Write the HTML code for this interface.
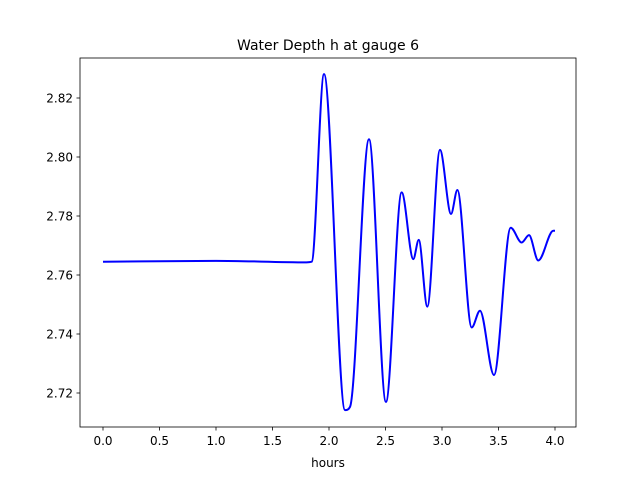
<!DOCTYPE html>
<html><head><meta charset="utf-8"><style>
body{margin:0;background:#fff;font-family:"DejaVu Sans","Liberation Sans",sans-serif;}
svg text{font-family:"DejaVu Sans","Liberation Sans",sans-serif;}
</style></head><body>
<svg id="chart" width="640" height="480" xmlns="http://www.w3.org/2000/svg">
<rect width="640" height="480" fill="#fff"/>
<text x="328" y="50" font-size="14" text-anchor="middle">Water Depth h at gauge 6</text>
<text x="328" y="467" font-size="12" text-anchor="middle">hours</text>
<g id="ticks"></g>
<path id="series" fill="none" stroke="#0000ff" stroke-width="2"/>
<rect x="80" y="58" width="496" height="369" fill="none" stroke="#000" stroke-width="0.8"/>
</svg>
<script>
const hours=[0,1.0,1.8,1.847,1.956,2.142,2.186,2.354,2.504,2.643,2.746,2.794,2.870,2.982,3.080,3.136,3.263,3.336,3.460,3.608,3.705,3.770,3.852,3.985,4.0];
const depth=[2.7645,2.7648,2.7643,2.7645,2.8281,2.7142,2.7153,2.806,2.717,2.788,2.7654,2.7719,2.7493,2.8024,2.7807,2.7888,2.7422,2.7479,2.7261,2.776,2.771,2.7735,2.7649,2.775,2.775];
const xTicks=[0,0.5,1,1.5,2,2.5,3,3.5,4];
const xTickLabels=["0.0","0.5","1.0","1.5","2.0","2.5","3.0","3.5","4.0"];
const yTicks=[2.72,2.74,2.76,2.78,2.80,2.82];
const yTickLabels=["2.72","2.74","2.76","2.78","2.80","2.82"];
const X=v=>103+v*113;
const Y=v=>98+(2.82-v)*2950;
const NS="http://www.w3.org/2000/svg";
const g=document.getElementById('ticks');
xTicks.forEach((t,i)=>{
 const l=document.createElementNS(NS,'line');
 
 
 l.setAttribute('x1',X(t));l.setAttribute('x2',X(t));l.setAttribute('y1',427);l.setAttribute('y2',430.5);l.setAttribute('stroke','#000');l.setAttribute('stroke-width','0.8');g.appendChild(l);
 const tx=document.createElementNS(NS,'text');
 
 
 tx.setAttribute('x',X(t));tx.setAttribute('y',445);tx.setAttribute('font-size','12');tx.setAttribute('text-anchor','middle');tx.textContent=xTickLabels[i];g.appendChild(tx);
});
yTicks.forEach((t,i)=>{
 const l=document.createElementNS(NS,'line');
 
 
 l.setAttribute('x1',76.5);l.setAttribute('x2',80);l.setAttribute('y1',Y(t));l.setAttribute('y2',Y(t));l.setAttribute('stroke','#000');l.setAttribute('stroke-width','0.8');g.appendChild(l);
 const tx=document.createElementNS(NS,'text');
 
 
 tx.setAttribute('x',73);tx.setAttribute('y',Y(t)+4.5);tx.setAttribute('font-size','12');tx.setAttribute('text-anchor','end');tx.textContent=yTickLabels[i];g.appendChild(tx);
});
const n=hours.length,d=[],m=[];
for(let i=0;i<n-1;i++)d.push((depth[i+1]-depth[i])/(hours[i+1]-hours[i]));
for(let i=0;i<n;i++){
 if(i==0)m.push(d[0]);else if(i==n-1)m.push(d[n-2]);
 else m.push(d[i-1]*d[i]<=0?0:(d[i-1]+d[i])/2);
}
for(let i=0;i<n-1;i++){if(d[i]==0){m[i]=0;m[i+1]=0;continue;}
 const a=m[i]/d[i],b=m[i+1]/d[i],s=a*a+b*b;if(s>9){const t=3/Math.sqrt(s);m[i]=t*a*d[i];m[i+1]=t*b*d[i];}}
let p='M'+X(hours[0])+','+Y(depth[0]);
for(let i=0;i<n-1;i++){const h=hours[i+1]-hours[i];
 p+=' C'+X(hours[i]+h/3)+','+Y(depth[i]+m[i]*h/3)+' '+X(hours[i+1]-h/3)+','+Y(depth[i+1]-m[i+1]*h/3)+' '+X(hours[i+1])+','+Y(depth[i+1]);}
document.getElementById('series').setAttribute('d',p);
</script>
</body></html>
